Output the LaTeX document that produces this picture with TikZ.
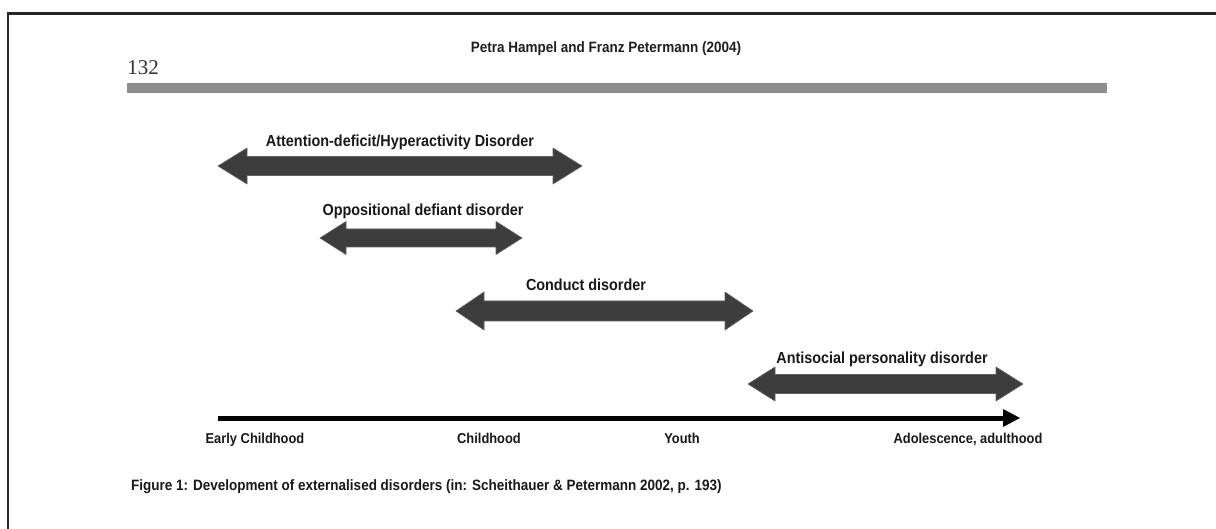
\documentclass[tikz,border=0pt]{standalone}
\usepackage{fontspec}
\setmainfont{Liberation Sans}
\newfontfamily\labfont[FakeStretch=0.9]{Liberation Sans}
\newfontfamily\numfont{Liberation Serif}
\begin{document}
\begin{tikzpicture}[x=1pt,y=-1pt,
  frame/.style={line width=2.5pt,black!85},
  rulebar/.style={fill=black!45,draw=none},
  barrow/.style={fill=black!76,draw=black!62,line width=0.6pt,line join=round},
  lab/.style={font=\labfont\bfseries\fontsize{16}{18}\selectfont,text=black!90,inner sep=0pt,anchor=base},
  axlab/.style={font=\labfont\bfseries\fontsize{14.3}{16}\selectfont,text=black!90,inner sep=0pt,anchor=base},
  caplab/.style={font=\labfont\bfseries\fontsize{15}{17}\selectfont,text=black!90,inner sep=0pt},
  hdr/.style={font=\labfont\bfseries\fontsize{15}{17}\selectfont,text=black!88,inner sep=0pt},
  axisline/.style={line width=5pt,black},
  axishead/.style={fill=black,draw=none}]
\useasboundingbox (0,0) rectangle (1216,529);
\fill[white] (0,0) rectangle (1216,529);
% frame
\draw[frame] (8,529) -- (8,13.5) -- (1216,13.5);
% header
\node[font=\numfont\fontsize{21}{24}\selectfont,text=black!80,inner sep=0pt] (page) at (143,68) {132};
\node[hdr] (head) at (606,49) {Petra Hampel and Franz Petermann (2004)};
\fill[rulebar] (127,83) rectangle (1107,93);
% double arrows: #1 left tip x, #2 right tip x, #3 centre y, #4 head half height, #5 head length, #6 shaft half height
\newcommand\dblarr[6]{%
  \filldraw[barrow] (#1,#3) -- (#1+#5,#3-#4) -- (#1+#5,#3-#6) -- (#2-#5,#3-#6) -- (#2-#5,#3-#4)
    -- (#2,#3) -- (#2-#5,#3+#4) -- (#2-#5,#3+#6) -- (#1+#5,#3+#6) -- (#1+#5,#3+#4) -- cycle;}
\dblarr{218}{582}{166}{18}{29}{9.5}
\node[lab] (adhd) at (400,147) {Attention-deficit/Hyperactivity Disorder};
\dblarr{320}{522}{238}{16.5}{26}{9}
\node[lab] (odd) at (423,216) {Oppositional defiant disorder};
\dblarr{456}{753}{311}{19}{28}{10}
\node[lab] (cd) at (586,291) {Conduct disorder};
\dblarr{748}{1023}{384}{17}{27}{9.5}
\node[lab] (apd) at (882,363) {Antisocial personality disorder};
% time axis
\coordinate (axL) at (218,418);
\coordinate (axR) at (1004,418);
\coordinate (axT) at (1020,418);
\draw[axisline] (axL) -- (axR);
\fill[axishead] (axT) -- (1003,409) -- (1003,427) -- cycle;
\node[axlab] (t1) at (255,443) {Early Childhood};
\node[axlab] (t2) at (489,443) {Childhood};
\node[axlab] (t3) at (682,443) {Youth};
\node[axlab] (t4) at (968,443) {Adolescence, adulthood};
% caption
\node[caplab,anchor=west] (cap) at (131,487) {Figure 1: Development of externalised disorders (in: Scheithauer \& Petermann 2002, p. 193)};
\end{tikzpicture}
\end{document}
